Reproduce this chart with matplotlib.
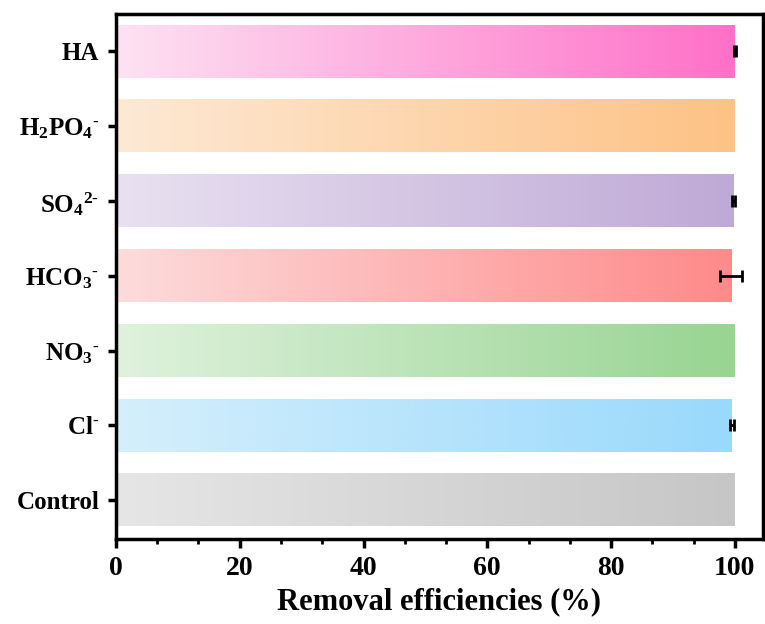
import numpy as np
import matplotlib
matplotlib.use('Agg')
import matplotlib.pyplot as plt
from matplotlib.colors import LinearSegmentedColormap
from matplotlib.ticker import MultipleLocator, AutoMinorLocator

plt.rcParams['font.family'] = 'Liberation Serif'
plt.rcParams['font.weight'] = 'bold'
plt.rcParams['mathtext.fontset'] = 'custom'
plt.rcParams['mathtext.rm'] = 'Liberation Serif:bold'
plt.rcParams['mathtext.it'] = 'Liberation Serif:bold'
plt.rcParams['mathtext.bf'] = 'Liberation Serif:bold'

labels = ['Control', 'Cl$^{\u2010}$', 'NO$_3{}^{\u2010}$', 'HCO$_3{}^{\u2010}$', 'SO$_4{}^{2\u2010}$',
          'H$_2$PO$_4{}^{\u2010}$', 'HA']
values = [100.0, 99.5, 100.0, 99.4, 99.8, 100.0, 100.0]
errors = [0.0, 0.3, 0.0, 1.8, 0.2, 0.0, 0.2]
left_colors = ['#e6e6e6', '#d5effc', '#dff2dd', '#fddcdc', '#e9e1f1', '#fde9d5', '#fde2f3']
right_colors = ['#c6c6c6', '#99d9fc', '#98d492', '#ff8a8a', '#bfa9d6', '#fec285', '#ff70c8']

fig = plt.figure(figsize=(7.65, 6.24), dpi=100)
ax = fig.add_axes([0.1516, 0.136, 0.8454, 0.8416])

bar_h = 0.7
grad = np.linspace(0, 1, 256).reshape(1, -1)
for i, (v, c0, c1) in enumerate(zip(values, left_colors, right_colors)):
    cmap = LinearSegmentedColormap.from_list('g%d' % i, [c0, c1])
    ax.imshow(grad, cmap=cmap, aspect='auto', interpolation='bicubic',
              extent=[0, v, i - bar_h / 2, i + bar_h / 2], zorder=1)

for i, (v, e) in enumerate(zip(values, errors)):
    if e > 0:
        ax.errorbar(v, i, xerr=e, fmt='none', ecolor='black', elinewidth=2,
                    capsize=4.5, capthick=2, zorder=3)

ax.set_xlim(0, 104.5)
ax.set_ylim(-0.52, 6.5)
ax.set_yticks(range(len(labels)))
ax.set_yticklabels(labels, fontsize=18)
ax.xaxis.set_major_locator(MultipleLocator(20))
ax.xaxis.set_minor_locator(AutoMinorLocator(3))
ax.tick_params(axis='x', which='major', length=6.5, width=2.5, labelsize=20, pad=6)
ax.tick_params(axis='x', which='minor', length=3.5, width=2)
ax.tick_params(axis='y', which='major', length=6, width=2.5, pad=6)
for s in ax.spines.values():
    s.set_linewidth(2.5)
ax.set_xlabel('Removal efficiencies (%)', fontsize=22, fontweight='bold', labelpad=4)

fig.savefig('out.png', dpi=100)
